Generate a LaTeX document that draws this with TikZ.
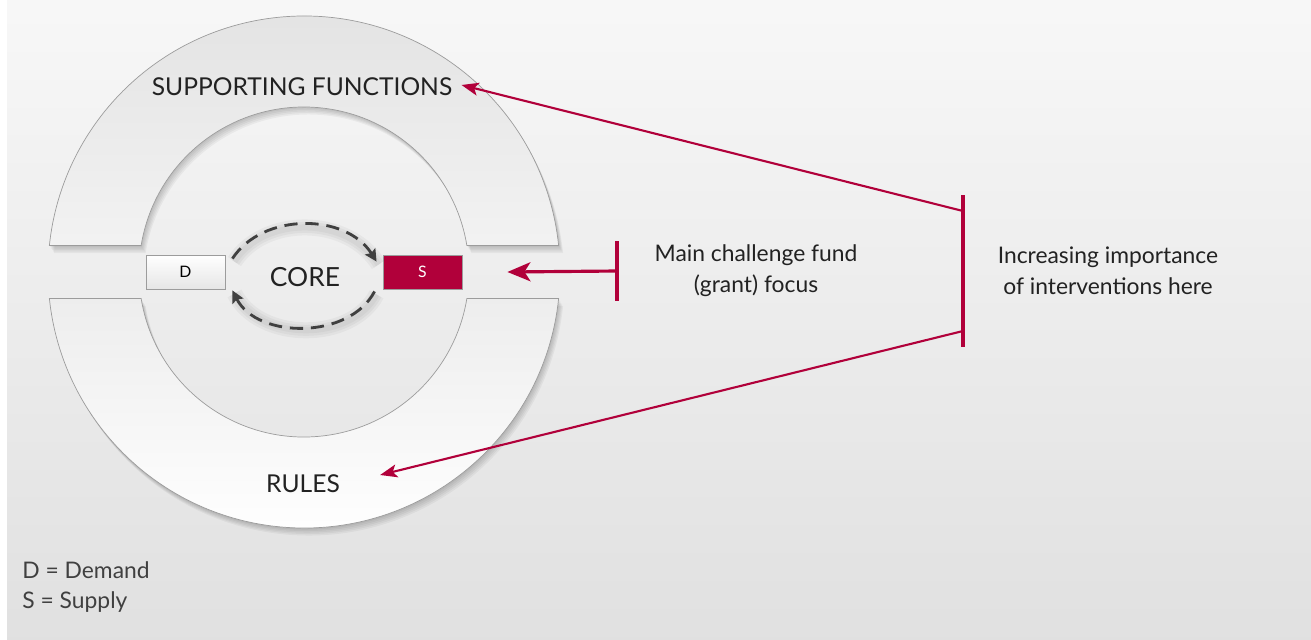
\documentclass[tikz,border=0pt]{standalone}
\usepackage{fontspec}
\setmainfont{Lato}
\usetikzlibrary{positioning, arrows.meta, calc}
\definecolor{cRed}{HTML}{B1003A}
\definecolor{cTxt}{HTML}{222222}
\definecolor{cDash}{HTML}{404040}
\definecolor{cEdge}{HTML}{9C9C9C}

% half rings, drawn round the centre of the core
\newcommand{\upperringpath}{(5.94:256) arc[start angle=5.94, end angle=174.06, radius=256]
  -- (170.76:165) arc[start angle=170.76, end angle=9.24, radius=165] -- cycle}
\newcommand{\lowerringpath}{(-5.94:256) arc[start angle=-5.94, end angle=-174.06, radius=256]
  -- (-170.76:165) arc[start angle=-170.76, end angle=-9.24, radius=165] -- cycle}

\tikzset{
  ring/.style={draw=cEdge, line width=0.4pt},
  lbl/.style={text=cTxt, inner sep=0pt, font=\fontsize{13}{17.5}\selectfont},
  flowbox/.style={draw=cEdge, line width=0.5pt, minimum width=1.58cm, minimum height=0.68cm,
    inner sep=0pt, font=\fontsize{9}{10}\selectfont},
  redbar/.style={fill=cRed, minimum width=0.08cm, inner sep=0pt},
  redarrow/.style={draw=cRed, -{Stealth[length=0.34cm, width=0.26cm, inset=0.08cm]}},
  cycarrow/.style={draw=cDash, line width=1.6pt, dash pattern=on 7.5pt off 4.5pt,
    -{Stealth[length=0.24cm, width=0.24cm, inset=0.04cm]}},
}

\begin{document}
\begin{tikzpicture}[x=0.02cm, y=0.02cm]
  \useasboundingbox (0,0) rectangle (1311,-639);
  \shade[top color=white!97!black, bottom color=white!88!black] (7,0) rectangle (1311,-639);

  % rings
  \begin{scope}[shift={(304,-272)}]
    \foreach \k in {1,...,5}{
      \fill[black, opacity=0.045, shift={(\k*0.9,-\k*1.5)}] \upperringpath;
      \fill[black, opacity=0.045, shift={(\k*0.9,-\k*1.5)}] \lowerringpath;
    }
    \shade[ring, top color=white!89!black, bottom color=white!95!black] \upperringpath;
    \shade[ring, top color=white!93!black, bottom color=white] \lowerringpath;
  \end{scope}

  % labels on the rings
  \node[lbl, font=\fontsize{14}{17}\selectfont] (supp) at (302,-87) {SUPPORTING FUNCTIONS};
  \node[lbl, font=\fontsize{15}{17}\selectfont] (core) at (305,-277) {CORE};
  \node[lbl, font=\fontsize{14}{17}\selectfont] (rules) at (303,-484) {RULES};

  % demand and supply
  \node[flowbox, top color=white, bottom color=white!90!black] (dbox) at (185.5,-272) {D};
  \node[flowbox, fill=cRed, text=white] (sbox) at (422.5,-272) {S};

  \foreach \w in {16,11,6}{
    \draw[black, opacity=0.035, line width=\w*0.02cm]
      ($(dbox.north east)+(9,-7)$) .. controls +(30,46) and +(-31,49) .. ($(sbox.north west)+(-4,-10)$);
    \draw[black, opacity=0.035, line width=\w*0.02cm]
      ($(sbox.south west)+(-6,-5)$) .. controls +(-25,-48) and +(25,-49) .. ($(dbox.south east)+(9,-4)$);
  }
  \draw[cycarrow] ($(dbox.north east)+(7,-4)$) .. controls +(30,46) and +(-31,49) .. ($(sbox.north west)+(-6,-7)$);
  \draw[cycarrow] ($(sbox.south west)+(-8,-2)$) .. controls +(-25,-48) and +(25,-49) .. ($(dbox.south east)+(7,-1)$);

  % challenge fund focus
  \node[redbar, minimum height=1.2cm] (smallbar) at (617,-271) {};
  \draw[redarrow, line width=1.8pt, -{Stealth[length=0.46cm, width=0.38cm, inset=0.12cm]}]
    (smallbar.center) -- ($(sbox.east)+(45,0)$);
  \node[lbl, align=center] (grant) at (756,-271) {Main challenge fund\\(grant) focus};

  % increasing importance
  \node[redbar, minimum height=3.04cm] (bigbar) at (963,-271) {};
  \draw[redarrow, line width=1.2pt] ($(bigbar.center)+(0,60)$) -- ($(supp.east)+(9,2)$);
  \draw[redarrow, line width=1.2pt] ($(bigbar.center)+(0,-60)$) -- ($(rules.east)+(40,9)$);
  \node[lbl, align=center] (incr) at (1108,-271) {Increasing importance\\of interventions here};

  % key
  \node[lbl, text=white!25!black, align=left, anchor=north west] (key) at (22,-561) {D = Demand\\S = Supply};
\end{tikzpicture}
\end{document}
